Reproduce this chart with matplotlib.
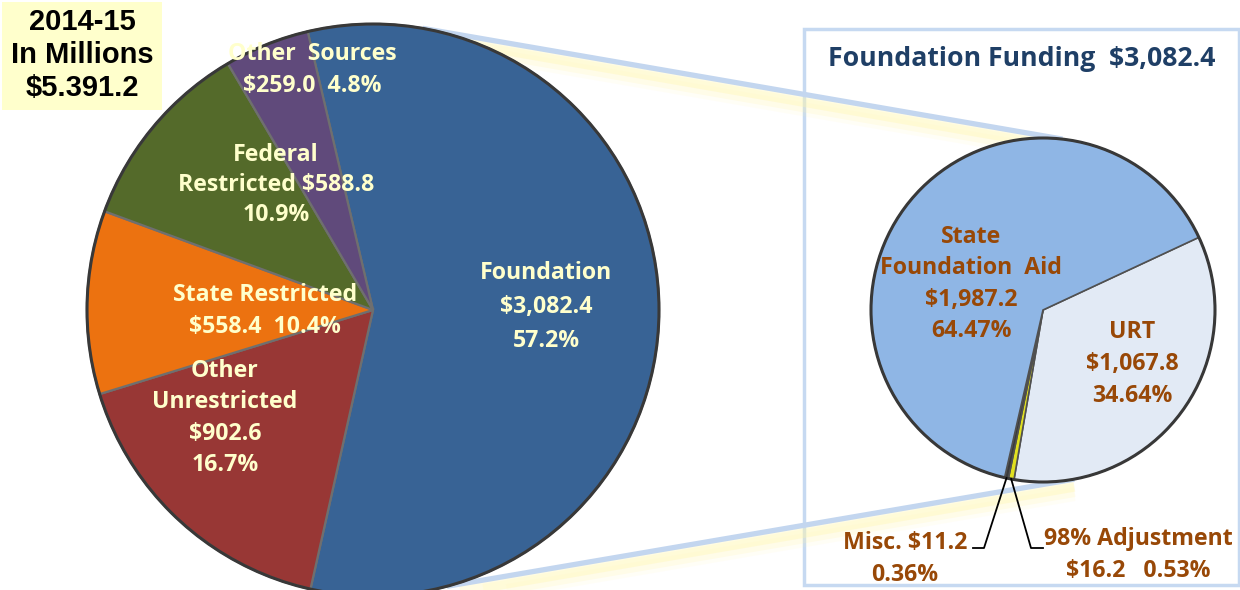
import numpy as np
import matplotlib.pyplot as plt
from matplotlib.patches import Circle, Rectangle

plt.rcParams['font.family'] = ['Open Sans', 'DejaVu Sans']

W, H = 1240, 590

# 2014-15 revenue, in millions
main_names = ['Foundation', 'Other Unrestricted', 'State Restricted',
              'Federal Restricted', 'Other Sources']
main_values = [3082.4, 902.6, 558.4, 588.8, 259.0]
main_colors = ['#386395', '#983735', '#ec7210', '#546a2a', '#604a7b']

# foundation funding breakdown
fnd_names = ['URT', '98% Adjustment', 'Misc.', 'State Foundation Aid']
fnd_values = [1067.8, 16.2, 11.2, 1987.2]
fnd_colors = ['#e2eaf5', '#e0e020', '#3a3a3a', '#8fb6e5']

year_label = '2014-15\nIn Millions\n$5.391.2'
fnd_title = 'Foundation Funding  $3,082.4'

main_pct = [100 * v / sum(main_values) for v in main_values]
fnd_pct = [100 * v / sum(fnd_values) for v in fnd_values]


def money(v):
    return '${:,.1f}'.format(v)


def edge_pt(c, r, ang):
    a = np.deg2rad(ang)
    return c[0] + r * np.cos(a), c[1] + r * np.sin(a)


def label(x, y, s, **kw):
    """text placed in pixel coords (y measured from the top)"""
    opts = dict(ha='center', va='center', fontweight='bold')
    opts.update(kw)
    ax.text(x, H - y, s, **opts)


fig = plt.figure(figsize=(W / 100, H / 100), dpi=100)
ax = fig.add_axes([0, 0, 1, 1])

c1, r1 = (373, H - 310), 286
c2, r2 = (1043, H - 310), 172

# right hand frame
ax.add_patch(Rectangle((804, H - 585), 435, 556, fill=False,
                       ec='#c6d9f1', lw=2.5, zorder=0.5))

# connector lines between the two pies, with a soft yellow glow beneath
for a1, a2 in [(80, 83.5), (-75, -79.5)]:
    p1 = edge_pt(c1, r1, a1)
    p2 = edge_pt(c2, r2, a2)
    for off, lw, al in [(7, 8, 0.35), (11, 10, 0.2), (15, 10, 0.1)]:
        ax.plot([p1[0], p2[0]], [p1[1] - off, p2[1] - off], color='#fff7b0',
                lw=lw, alpha=al, solid_capstyle='butt', zorder=0.6)
    ax.plot([p1[0], p2[0]], [p1[1], p2[1]], color='#c3d6ef', lw=3.8,
            solid_capstyle='butt', zorder=0.7)

wedges1, _ = ax.pie(main_values, colors=main_colors, startangle=103.2,
                    counterclock=False, center=c1, radius=r1,
                    wedgeprops=dict(edgecolor='#6f6f6f', linewidth=1.6))
wedges2, _ = ax.pie(fnd_values, colors=fnd_colors, startangle=25,
                    counterclock=False, center=c2, radius=r2,
                    wedgeprops=dict(edgecolor='#505050', linewidth=1.2))

for c, r in [(c1, r1), (c2, r2)]:
    ax.add_patch(Circle(c, r, fill=False, ec='#383838', lw=2.2, zorder=3))

# left pie labels
yel = '#ffffcc'
fs = 16.7
ls = 1.42
label(546, 307, '{}\n{}\n{:.1f}%'.format(main_names[0], money(main_values[0]),
                                         main_pct[0]),
      color=yel, fontsize=fs, linespacing=1.58)
label(225, 418, 'Other\nUnrestricted\n{}\n{:.1f}%'.format(money(main_values[1]),
                                                         main_pct[1]),
      color=yel, fontsize=fs, linespacing=ls)
label(265, 311, 'State Restricted\n{}  {:.1f}%'.format(money(main_values[2]),
                                                     main_pct[2]),
      color=yel, fontsize=fs, linespacing=ls)
label(276, 185, 'Federal\nRestricted {}\n{:.1f}%'.format(money(main_values[3]),
                                                        main_pct[3]),
      color=yel, fontsize=fs, linespacing=1.33)
label(312, 70, 'Other  Sources\n{}  {:.1f}%'.format(money(main_values[4]),
                                                  main_pct[4]),
      color=yel, fontsize=fs, linespacing=ls)

# year box
ax.add_patch(Rectangle((2, H - 110), 160, 108, fc='#ffffcc', ec='none',
                       zorder=4))
label(82, 55, year_label, fontsize=21, color='black', linespacing=1.22,
      family=['Liberation Sans', 'DejaVu Sans'], zorder=5)

# right pie labels
brown = '#984807'
label(1022, 59, fnd_title, color='#1f3f66', fontsize=19.2)
label(971, 284, 'State\nFoundation  Aid\n{}\n{:.2f}%'.format(
    money(fnd_values[3]), fnd_pct[3]), color=brown, fontsize=fs,
    linespacing=ls)
label(1132, 364, 'URT\n{}\n{:.2f}%'.format(money(fnd_values[0]), fnd_pct[0]),
      color=brown, fontsize=fs, linespacing=ls)
label(905, 559, 'Misc. {}\n{:.2f}%'.format(money(fnd_values[2]), fnd_pct[2]),
      color=brown, fontsize=fs, linespacing=ls)
label(1138, 555, '98% Adjustment\n{}   {:.2f}%'.format(money(fnd_values[1]),
                                                     fnd_pct[1]),
      color=brown, fontsize=fs, linespacing=ls)

# leader lines for the thin slices
for idx, elbow, end in [(2, 984, 973), (1, 1031, 1043)]:
    w = wedges2[idx]
    px, py = edge_pt(c2, r2, (w.theta1 + w.theta2) / 2)
    ax.plot([px, elbow, end], [py, H - 548, H - 548], color='black', lw=1.3,
            zorder=4)

ax.set_xlim(0, W)
ax.set_ylim(0, H)
ax.set_aspect('equal')
ax.axis('off')

fig.savefig('out.png', dpi=100)
